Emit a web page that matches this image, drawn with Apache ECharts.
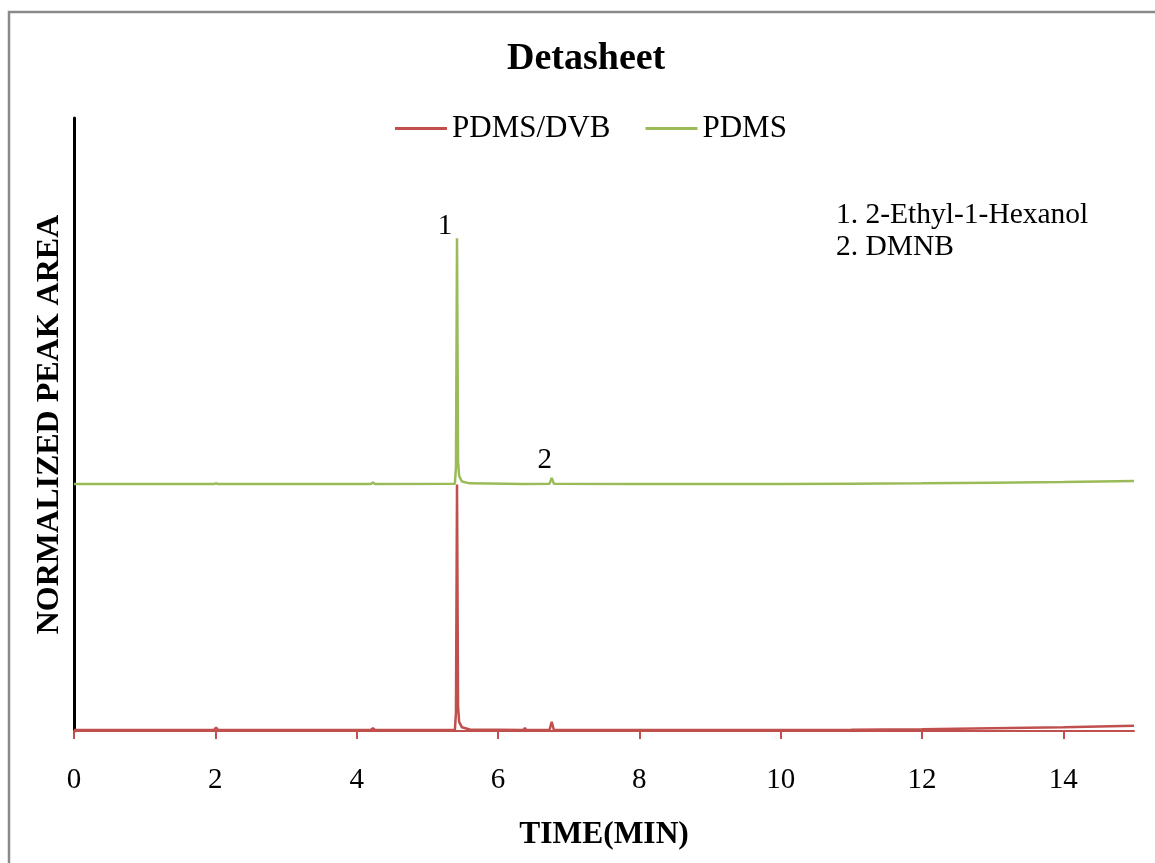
<!DOCTYPE html>
<html>
<head>
<meta charset="utf-8">
<script src="https://cdn.jsdelivr.net/npm/echarts@6/dist/echarts.min.js"></script>
<style>
html,body{margin:0;padding:0;background:#fff;}
#chart{width:1155px;height:863px;}
</style>
</head>
<body>
<div id="chart"></div>
<script>
// ---- data ----
const xTicks = [0, 2, 4, 6, 8, 10, 12, 14];

const dvbTimes  = [0, 1.28, 1.30, 1.32, 1.98, 2.01, 2.04, 4.20, 4.23, 4.26, 5.39, 5.405, 5.42, 5.435, 5.45, 5.49, 5.60, 6.36, 6.38, 6.40, 6.73, 6.76, 6.79, 7.88, 7.90, 7.92, 8.13, 8.15, 8.17, 10, 11, 12, 13, 14, 15];
const dvbValues = [0.16, 0.16, 0.35, 0.16, 0.16, 0.55, 0.16, 0.16, 0.45, 0.16, 0.2, 3, 40.2, 4, 1.5, 0.6, 0.25, 0.16, 0.5, 0.16, 0.2, 1.5, 0.2, 0.16, 0.35, 0.16, 0.16, 0.3, 0.16, 0.16, 0.2, 0.3, 0.45, 0.6, 0.85];

const pdmsTimes  = [0, 1.28, 1.30, 1.32, 1.98, 2.01, 2.04, 4.20, 4.23, 4.26, 5.39, 5.405, 5.42, 5.435, 5.45, 5.49, 5.60, 6.36, 6.38, 6.40, 6.73, 6.76, 6.79, 7.88, 7.90, 7.92, 8.13, 8.15, 8.17, 10, 11, 12, 13, 14, 15];
const pdmsValues = [40.3, 40.3, 40.45, 40.3, 40.3, 40.4, 40.3, 40.3, 40.55, 40.3, 40.35, 43, 80.4, 44, 41.6, 40.7, 40.4, 40.3, 40.6, 40.3, 40.35, 41.3, 40.35, 40.3, 40.45, 40.3, 40.3, 40.4, 40.3, 40.3, 40.35, 40.4, 40.5, 40.6, 40.8];

const peakLabels = [
  {name: '1', t: 5.42, v: 80.4},
  {name: '2', t: 6.76, v: 41.3}
];
const compoundNotes = ['1. 2-Ethyl-1-Hexanol', '2. DMNB'];

const RED = '#C0504D', GREEN = '#9BBB59';
const FONT = '"Liberation Serif", "Times New Roman", serif';

const zip = (a, b) => a.map((t, i) => [t, b[i]]);
const LINE_ICON = 'path://M0,0L52,0L52,3L0,3Z';

const chart = echarts.init(document.getElementById('chart'), null, {renderer: 'canvas'});
chart.setOption({
  backgroundColor: '#fff',
  animation: false,
  textStyle: {fontFamily: FONT, color: '#000'},
  title: {
    text: 'Detasheet',
    left: 502, top: 35,
    textStyle: {fontFamily: FONT, fontSize: 38, fontWeight: 'bold', color: '#000'}
  },
  legend: {
    left: 390, top: 108,
    itemWidth: 52, itemHeight: 3, itemGap: 35,
    textStyle: {fontFamily: FONT, fontSize: 31, color: '#000'},
    data: [{name: 'PDMS/DVB', icon: LINE_ICON}, {name: 'PDMS', icon: LINE_ICON}]
  },
  grid: {left: 74, right: 21, top: 118, bottom: 132, containLabel: false},
  xAxis: {
    type: 'value', min: 0, max: 15,
    name: 'TIME(MIN)', nameLocation: 'middle', nameGap: 88,
    nameTextStyle: {fontFamily: FONT, fontSize: 31.5, fontWeight: 'bold', color: '#000'},
    axisLine: {show: true, lineStyle: {color: RED, width: 2}},
    axisTick: {show: true, inside: false, length: 8, lineStyle: {color: RED, width: 2}, customValues: xTicks},
    axisLabel: {fontFamily: FONT, fontSize: 29, color: '#000', margin: 35, customValues: xTicks},
    splitLine: {show: false}
  },
  yAxis: {
    type: 'value', min: 0, max: 100,
    name: 'NORMALIZED PEAK AREA', nameLocation: 'middle', nameGap: 8, nameRotate: 90,
    nameTextStyle: {fontFamily: FONT, fontSize: 32, fontWeight: 'bold', color: '#000'},
    axisLine: {show: true, lineStyle: {color: '#000', width: 3}},
    axisTick: {show: false},
    axisLabel: {show: false},
    splitLine: {show: false}
  },
  graphic: [
    {type: 'rect', shape: {x: 9, y: 12, width: 1300, height: 1000}, style: {fill: 'none', stroke: '#8a8a8a', lineWidth: 2.5}, silent: true},
    {type: 'text', left: 836, top: 200, style: {text: compoundNotes[0], font: '29.5px ' + FONT, fill: '#000'}},
    {type: 'text', left: 836, top: 232, style: {text: compoundNotes[1], font: '29.5px ' + FONT, fill: '#000'}}
  ],
  series: [
    {
      name: 'PDMS/DVB', type: 'line', symbol: 'none', smooth: false,
      lineStyle: {color: RED, width: 2.5}, itemStyle: {color: RED},
      data: zip(dvbTimes, dvbValues)
    },
    {
      name: 'PDMS', type: 'line', symbol: 'none', smooth: false,
      lineStyle: {color: GREEN, width: 2.5}, itemStyle: {color: GREEN},
      data: zip(pdmsTimes, pdmsValues),
      markPoint: {
        symbol: 'circle', symbolSize: 0,
        label: {show: true, fontFamily: FONT, fontSize: 29, color: '#000', formatter: p => p.name},
        data: [
          {name: peakLabels[0].name, coord: [peakLabels[0].t, peakLabels[0].v], label: {offset: [-12, -12]}},
          {name: peakLabels[1].name, coord: [peakLabels[1].t, peakLabels[1].v], label: {offset: [-7, -17]}}
        ]
      }
    }
  ]
});
</script>
</body>
</html>
